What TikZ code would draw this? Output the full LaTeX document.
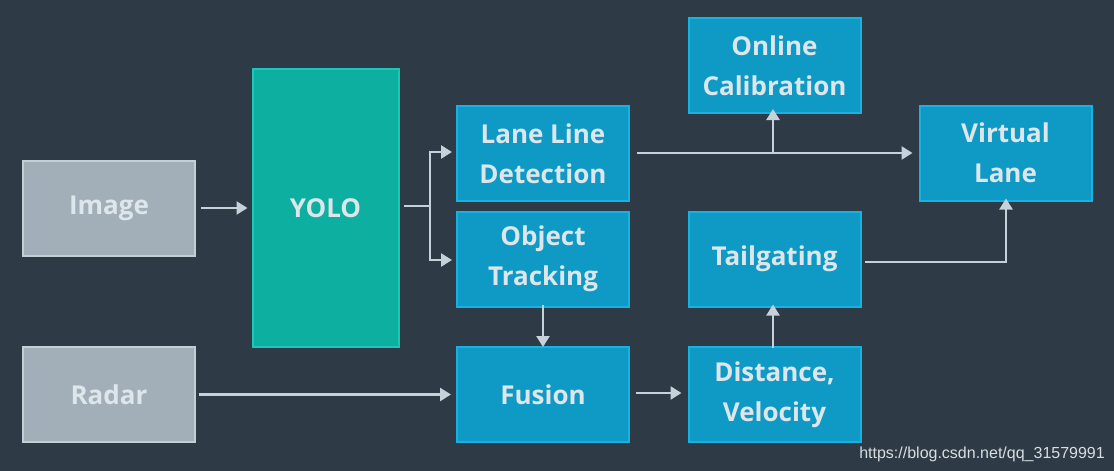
\documentclass[tikz,border=0pt]{standalone}
\usepackage{fontspec}
\setmainfont{Open Sans}
\newfontfamily\wmfont{Liberation Sans}
\usetikzlibrary{arrows.meta}
\definecolor{bgc}{HTML}{2E3A46}
\definecolor{grayfill}{HTML}{A2AFB8}
\definecolor{grayline}{HTML}{C3CED5}
\definecolor{tealfill}{HTML}{0DAFA0}
\definecolor{tealline}{HTML}{1CC8B4}
\definecolor{bluefill}{HTML}{0E9AC5}
\definecolor{blueline}{HTML}{18B2E2}
\definecolor{txt}{HTML}{DDE6EB}
\definecolor{arrc}{HTML}{C6D1D9}
\definecolor{wmc}{HTML}{D8DDE0}
\tikzset{
  box/.style={rectangle, inner sep=0pt, line width=2pt, text=txt, align=center,
    font=\fontsize{26}{40}\bfseries\selectfont},
  graybox/.style={box, fill=grayfill, draw=grayline, minimum width=172pt, minimum height=95pt},
  tealbox/.style={box, fill=tealfill, draw=tealline, minimum width=146pt, minimum height=278pt},
  bluebox/.style={box, fill=bluefill, draw=blueline, minimum width=172pt, minimum height=95pt},
  arr/.style={draw=arrc, line width=2.5pt, -{Triangle[length=11pt,width=13pt]}},
  ln/.style={draw=arrc, line width=2.5pt}
}
\begin{document}
\begin{tikzpicture}[x=1pt,y=-1pt]
\fill[bgc] (0,0) rectangle (1114,471);
\useasboundingbox (0,0) rectangle (1114,471);

\node[graybox] (img) at (109,208) {Image};
\node[graybox] (radar) at (109,394.5) {Radar};
\node[tealbox] (yolo) at (325.5,208) {YOLO};
\node[bluebox] (lane) at (543,153.5) {Lane Line\\Detection};
\node[bluebox] (obj) at (543,259) {Object\\Tracking};
\node[bluebox] (fusion) at (543,394.5) {Fusion};
\node[bluebox] (calib) at (774.5,65.5) {Online\\Calibration};
\node[bluebox] (virt) at (1005.5,153) {Virtual\\Lane};
\node[bluebox] (tail) at (774.5,259) {Tailgating};
\node[bluebox] (dist) at (774.5,394.5) {Distance,\\Velocity};

\coordinate (yb) at (430,206);
\coordinate (lb) at (773,153);
\coordinate (tb) at (1006,262);

% Image -> YOLO
\draw[arr] ([xshift=5pt]img.east) -- ([xshift=-4pt]yolo.west |- img.east);
% YOLO branch
\draw[ln] ([xshift=4pt]yolo.east |- yb) -- (yb);
\draw[arr] (yb) |- ([xshift=-4pt]lane.west |- 0,152);
\draw[arr] (yb) |- ([xshift=-4pt]obj.west |- 0,260);
% Lane -> Virtual
\draw[arr] ([xshift=7pt]lane.east |- lb) -- ([xshift=-6pt]virt.west |- lb);
\draw[arr] (lb) -- ([yshift=5pt]calib.south -| lb);
% Object Tracking -> Fusion
\draw[arr] ([yshift=3pt]obj.south) -- ([yshift=-1pt]fusion.north);
% Radar -> Fusion
\draw[arr] ([xshift=3pt]radar.east) -- ([xshift=-5pt]fusion.west |- radar.east);
% Fusion -> Distance
\draw[arr] ([xshift=6pt]fusion.east |- 0,393) -- ([xshift=-6pt]dist.west |- 0,393);
% Distance -> Tailgating
\draw[arr] ([yshift=-2pt]dist.north -| lb) -- ([yshift=3pt]tail.south -| lb);
% Tailgating -> Virtual
\draw[arr] ([xshift=3pt]tail.east |- tb) -| ([yshift=3pt]virt.south -| tb);

\node[anchor=base east, text=wmc, inner sep=0pt, font=\wmfont\fontsize{16}{16}\selectfont] (wm) at (1105,458) {https://blog.csdn.net/qq\_31579991};
\end{tikzpicture}
\end{document}
